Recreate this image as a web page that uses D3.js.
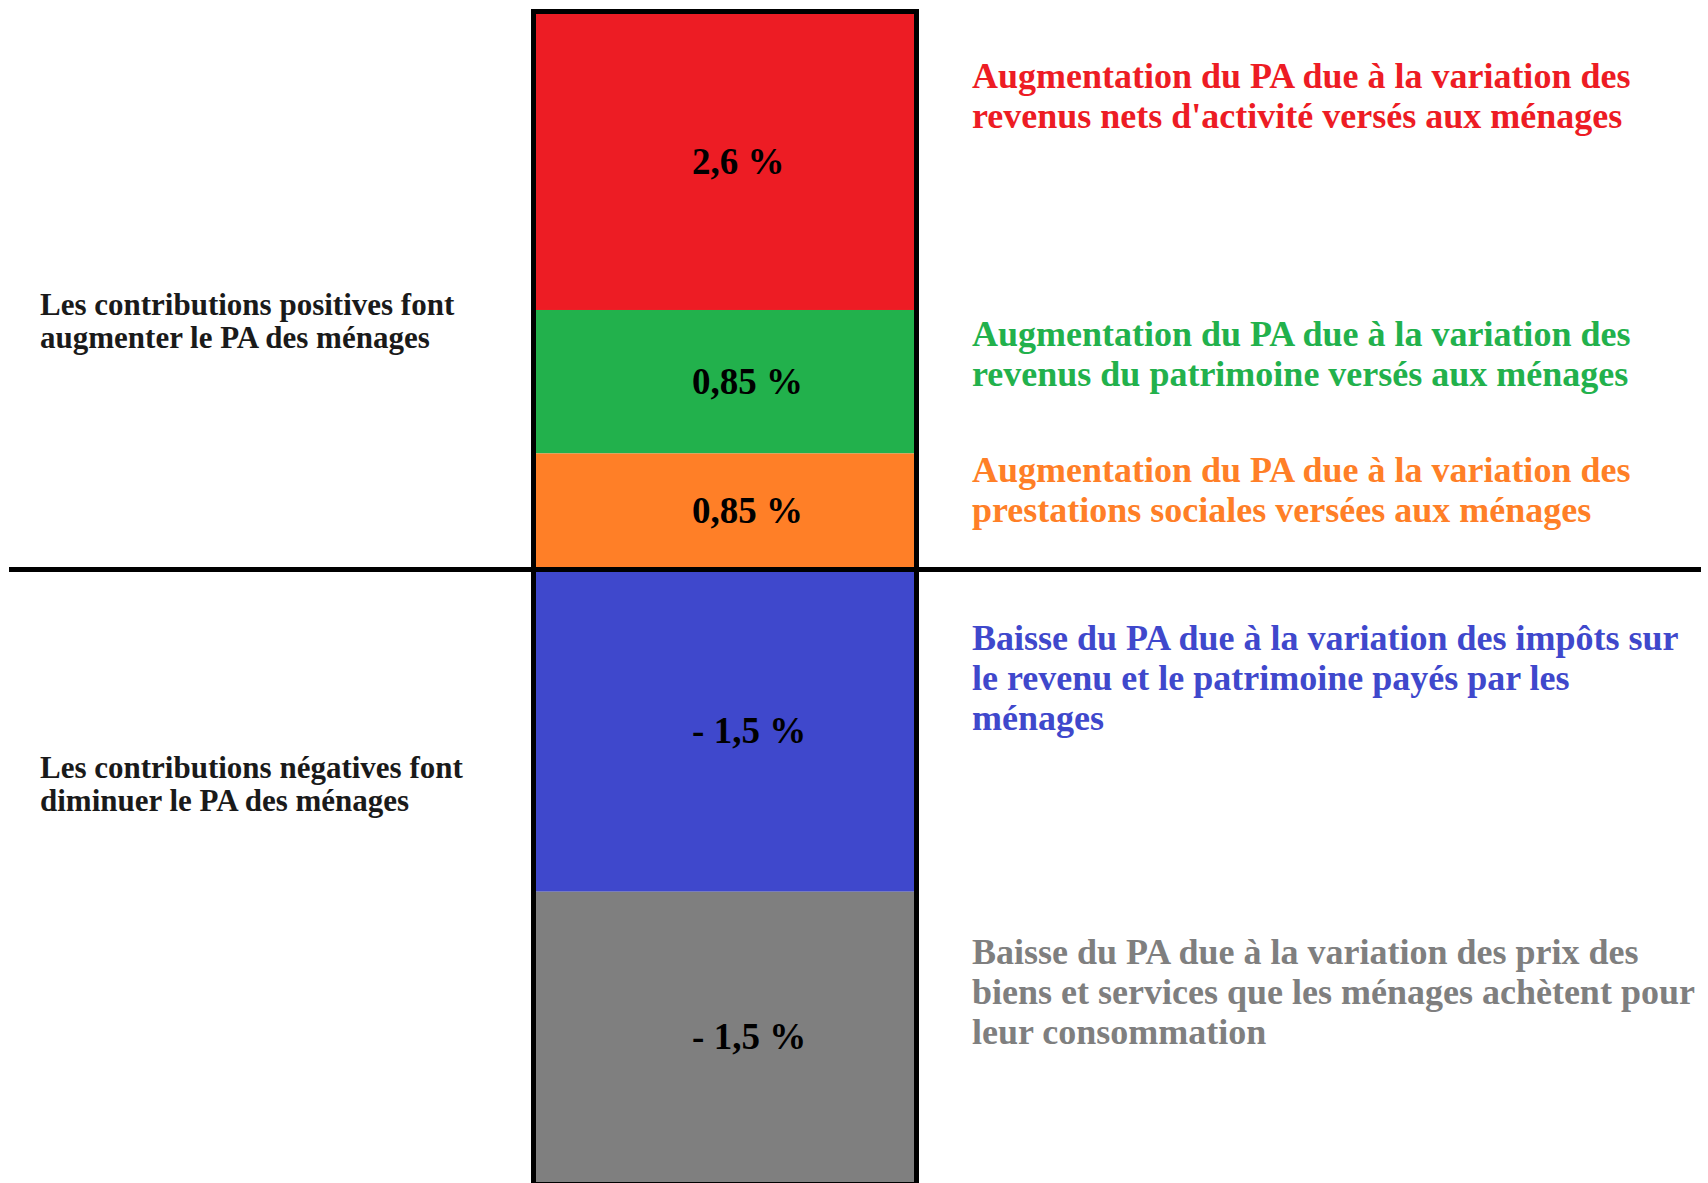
<!DOCTYPE html>
<html>
<head>
<meta charset="utf-8">
<script src="https://cdn.jsdelivr.net/npm/d3@7"></script>
<style>
  body { margin: 0; background: #fff; }
  svg { display: block; }
  text { font-family: "Liberation Serif", "Times New Roman", serif; font-weight: bold; }
</style>
</head>
<body>
<div id="chart"></div>
<script>
// contributions to the change in purchasing power (PA), top to bottom
var categories = ["activite", "patrimoine", "prestations", "impots", "prix"]
var values = [2.6, 0.85, 0.85, -1.5, -1.5]
// drawn extent of each block in the schematic (in % units)
var spans = [2.6, 1.26, 1.02, 2.83, 2.55]
var colors = ["#ED1C24", "#22B14C", "#FF7F27", "#3F48CC", "#7F7F7F"]
var notes = [
  ["Augmentation du PA due à la variation des", "revenus nets d'activité versés aux ménages"],
  ["Augmentation du PA due à la variation des", "revenus du patrimoine versés aux ménages"],
  ["Augmentation du PA due à la variation des", "prestations sociales versées aux ménages"],
  ["Baisse du PA due à la variation des impôts sur", "le revenu et le patrimoine payés par les", "ménages"],
  ["Baisse du PA due à la variation des prix des", "biens et services que les ménages achètent pour", "leur consommation"]
]
var sideCaptions = [
  ["Les contributions positives font", "augmenter le PA des ménages"],
  ["Les contributions négatives font", "diminuer le PA des ménages"]
]

var width = 1708, height = 1183
var plotTop = 14, plotBottom = 1182

var posTotal = d3.sum(spans.filter(function(d, i) { return values[i] > 0 }))
var negTotal = d3.sum(spans.filter(function(d, i) { return values[i] < 0 }))

var y = d3.scaleLinear().domain([-negTotal, posTotal]).range([plotBottom, plotTop])
var x = d3.scaleBand().domain(["PA"]).range([536, 914])

// stack blocks from the top of the positive part downward
var cum = posTotal
var blocks = categories.map(function(c, i) {
  var b = { key: c, value: values[i], hi: cum, lo: cum - spans[i], color: colors[i], note: notes[i] }
  cum -= spans[i]
  return b
})

var fmt = function(v) {
  return (v < 0 ? "- " : "") + String(Math.abs(v)).replace(".", ",") + " %"
}

var svg = d3.select("#chart").append("svg")
  .attr("width", width)
  .attr("height", height)

svg.selectAll("rect.block")
  .data(blocks)
  .enter().append("rect")
  .classed("block", true)
  .attr("x", x("PA"))
  .attr("y", function(d) { return y(d.hi) })
  .attr("width", x.bandwidth())
  .attr("height", function(d) { return y(d.lo) - y(d.hi) })
  .attr("fill", function(d) { return d.color })

// frame around the whole column
svg.append("rect")
  .attr("x", x("PA") - 2.5)
  .attr("y", y(posTotal) - 2.5)
  .attr("width", x.bandwidth() + 5)
  .attr("height", y(-negTotal) - y(posTotal) + 5)
  .attr("fill", "none")
  .attr("stroke", "#000")
  .attr("stroke-width", 5)

// zero line
svg.append("line")
  .attr("x1", 9)
  .attr("x2", 1701)
  .attr("y1", y(0))
  .attr("y2", y(0))
  .attr("stroke", "#000")
  .attr("stroke-width", 5)

svg.selectAll("text.val")
  .data(blocks)
  .enter().append("text")
  .classed("val", true)
  .attr("x", x("PA") + x.bandwidth() * 0.413)
  .attr("y", function(d) { return (y(d.hi) + y(d.lo)) / 2 + 12 })
  .attr("font-size", 37)
  .attr("fill", "#000")
  .text(function(d) { return fmt(d.value) })

// notes on the right, anchored inside each block's span
var noteG = svg.selectAll("g.note")
  .data(blocks)
  .enter().append("g")
  .classed("note", true)
  .attr("transform", function(d) {
    var h = y(d.lo) - y(d.hi)
    return "translate(972," + (y(d.hi) + h * 0.25) + ")"
  })

noteG.append("text")
  .attr("font-size", 36)
  .attr("fill", function(d) { return d.color })
  .selectAll("tspan")
  .data(function(d) { return d.note })
  .enter().append("tspan")
  .attr("x", 0)
  .attr("y", function(d, i) { return i * 40 })
  .text(function(d) { return d })

// captions on the left
var capY = [315, 778]
svg.selectAll("text.cap")
  .data(sideCaptions)
  .enter().append("text")
  .classed("cap", true)
  .attr("font-size", 31)
  .attr("fill", "#1a1a1a")
  .selectAll("tspan")
  .data(function(d, j) { return d.map(function(t) { return { t: t, j: j } }) })
  .enter().append("tspan")
  .attr("x", 40)
  .attr("y", function(d, i) { return capY[d.j] + i * 33 })
  .text(function(d) { return d.t })
</script>
</body>
</html>
